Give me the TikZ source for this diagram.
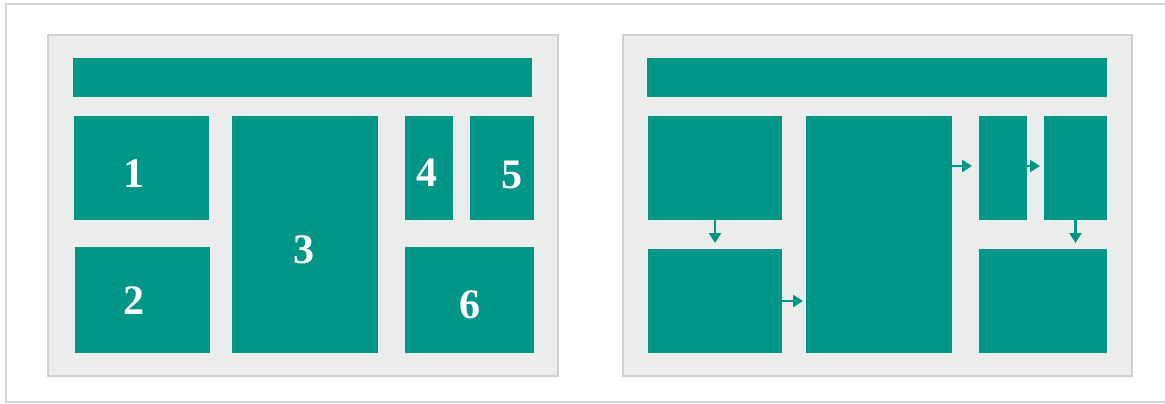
\documentclass[tikz,border=0pt]{standalone}
\usepackage{fontspec}
\setmainfont{Liberation Serif}
\usetikzlibrary{arrows.meta}
\definecolor{tealbox}{RGB}{0,150,136}
\definecolor{panelbg}{RGB}{235,236,236}
\definecolor{panelline}{RGB}{208,209,209}
\definecolor{frameline}{RGB}{214,214,214}
\tikzset{
  tile/.style={fill=tealbox, inner sep=0pt, outer sep=0pt, anchor=north west},
  num/.style={text=white, inner sep=0pt, font=\bfseries\fontsize{42}{42}\selectfont},
  flow/.style={draw=tealbox, line width=2.6pt, -{Triangle[length=10pt,width=12pt]}}
}
\begin{document}
\begin{tikzpicture}[x=1pt, y=-1pt]
        \useasboundingbox (0,0) rectangle (1165,404);
        \draw[frameline, line width=2pt] (1165,4) -- (6,4) -- (6,402) -- (1165,402);
        % panels
        \filldraw[fill=panelbg, draw=panelline, line width=1.5pt] (48,35) rectangle (558,376);
        \filldraw[fill=panelbg, draw=panelline, line width=1.5pt] (623,35) rectangle (1132,376);
        % left panel
        \node[tile, minimum width=459pt, minimum height=39pt] (lbar) at (73,58) {};
        \node[tile, minimum width=135pt, minimum height=104pt] (l1) at (74,116) {};
        \node[tile, minimum width=135pt, minimum height=106pt] (l2) at (75,247) {};
        \node[tile, minimum width=146pt, minimum height=237pt] (l3) at (232,116) {};
        \node[tile, minimum width=48pt, minimum height=104pt] (l4) at (405,116) {};
        \node[tile, minimum width=64pt, minimum height=104pt] (l5) at (470,116) {};
        \node[tile, minimum width=129pt, minimum height=106pt] (l6) at (405,247) {};
        \node[num] (n1) at (134,174) {1};
        \node[num] (n2) at (134,301) {2};
        \node[num] (n3) at (304,250) {3};
        \node[num] (n4) at (427,173) {4};
        \node[num] (n5) at (512,175) {5};
        \node[num] (n6) at (470,305) {6};
        % right panel
        \node[tile, minimum width=460pt, minimum height=39pt] (rbar) at (647,58) {};
        \node[tile, minimum width=134pt, minimum height=104pt] (ra) at (648,116) {};
        \node[tile, minimum width=134pt, minimum height=104pt] (rb) at (648,249) {};
        \node[tile, minimum width=146pt, minimum height=237pt] (rc) at (806,116) {};
        \node[tile, minimum width=48pt, minimum height=104pt] (rd) at (979,116) {};
        \node[tile, minimum width=63pt, minimum height=104pt] (re) at (1044,116) {};
        \node[tile, minimum width=128pt, minimum height=104pt] (rf) at (979,249) {};
        \draw[flow, shorten >=6pt] (ra.south) -- (ra.south |- rb.north);
        \draw[flow, shorten >=3pt] ([yshift=-52pt]rb.north east) -- ([yshift=-52pt]rb.north east -| rc.west);
        \draw[flow, shorten >=7pt] ([yshift=-50pt]rc.north east) -- ([yshift=-50pt]rc.north east -| rd.west);
        \draw[flow, shorten >=4pt] ([yshift=-50pt]rd.north east) -- ([yshift=-50pt]re.north west);
        \draw[flow, shorten >=6pt] (re.south) -- (re.south |- rf.north);
\end{tikzpicture}
\end{document}
